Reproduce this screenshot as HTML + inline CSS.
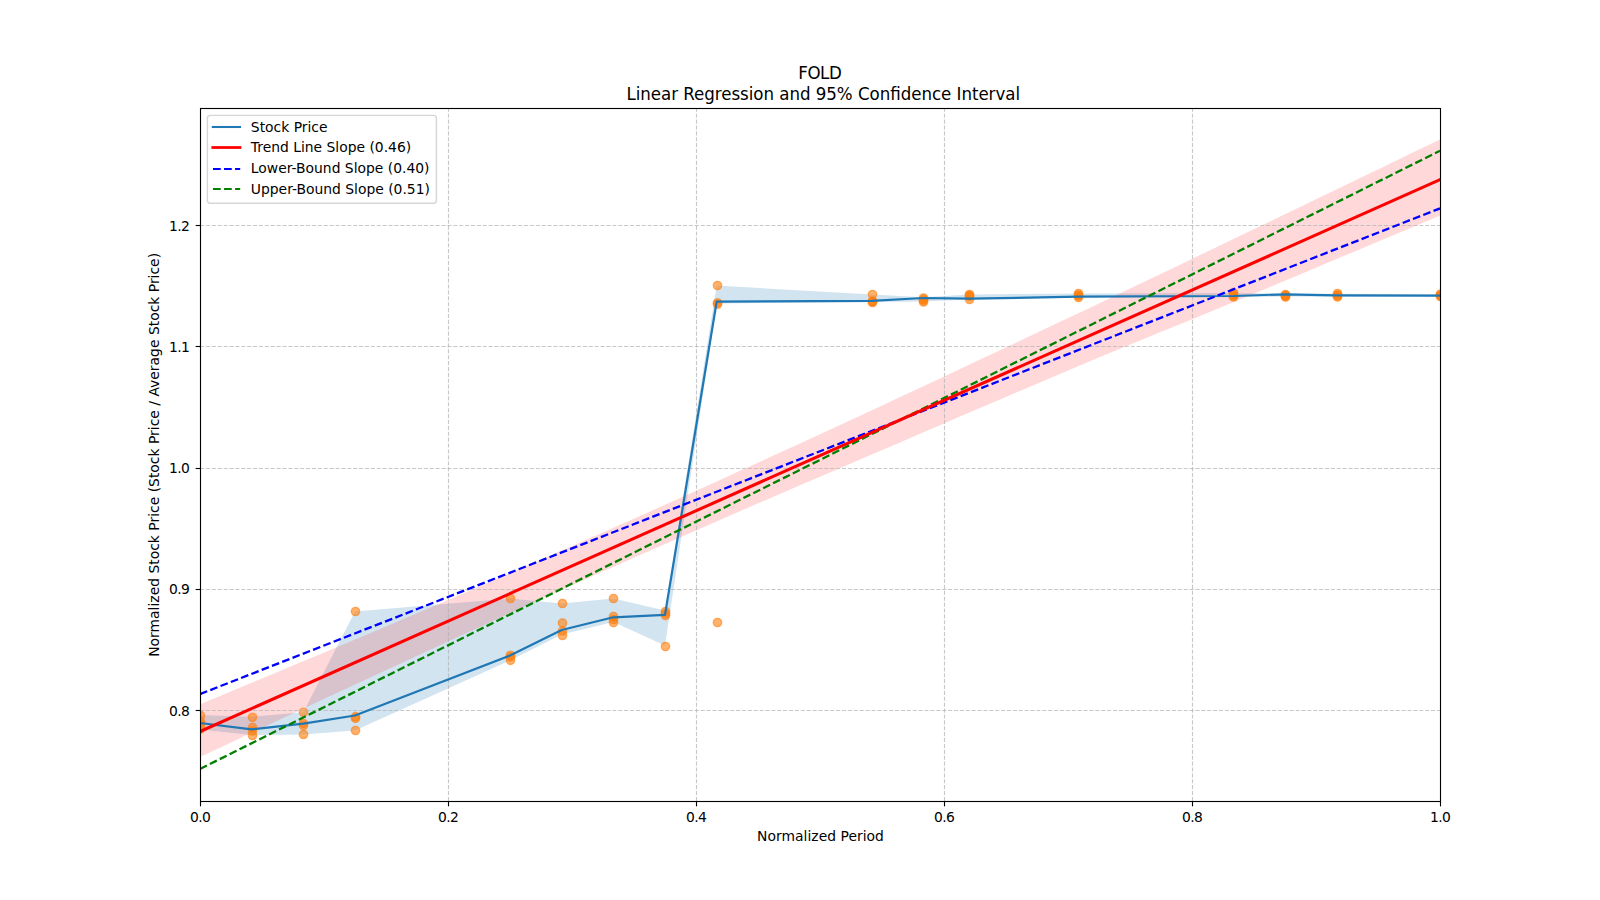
<!DOCTYPE html>
<html lang="en"><head><meta charset="utf-8"><title>FOLD - Linear Regression and 95% Confidence Interval</title>
<style>html,body{margin:0;padding:0;background:#fff;overflow:hidden}body{width:1600px;height:900px;font-family:'DejaVu Sans', 'Liberation Sans', sans-serif}svg text{white-space:pre}</style>
</head><body>
<svg width="1600" height="900" viewBox="0 0 1600 900" style="display:block;font-family:'DejaVu Sans', 'Liberation Sans', sans-serif">
<defs><clipPath id="ax"><rect x="200" y="108" width="1240" height="693"/></clipPath></defs>
<rect width="1600" height="900" fill="#fff"/>
<g clip-path="url(#ax)">
<polygon fill="#1f77b4" fill-opacity="0.2" points="200.00,715.00 251.67,716.70 303.33,712.30 355.00,611.50 510.00,598.50 561.67,603.50 613.33,598.50 665.00,610.50 716.67,285.50 871.67,294.50 923.33,297.30 969.50,294.50 1078.33,293.50 1233.33,293.00 1285.00,293.80 1336.67,293.80 1440.00,294.20 1440.00,296.40 1336.67,296.80 1285.00,296.50 1233.33,297.00 1078.33,297.30 969.50,299.50 923.33,301.50 871.67,302.00 716.67,303.50 665.00,645.50 613.33,622.00 561.67,634.50 510.00,660.50 355.00,730.50 303.33,734.50 251.67,735.00 200.00,729.50"/>
<polygon fill="#ff0000" fill-opacity="0.15" points="200.00,704.21 220.00,695.91 240.00,687.61 260.00,679.29 280.00,670.95 300.00,662.59 320.00,654.21 340.00,645.82 360.00,637.40 380.00,628.95 400.00,620.49 420.00,611.95 440.00,603.38 460.00,594.78 480.00,586.15 500.00,577.49 520.00,568.79 540.00,560.07 560.00,551.31 580.00,542.51 600.00,533.68 620.00,524.81 640.00,515.91 660.00,506.97 680.00,497.99 700.00,488.98 720.00,479.93 740.00,470.85 760.00,461.73 780.00,452.58 800.00,443.40 820.00,434.20 840.00,424.96 860.00,415.69 880.00,406.40 900.00,397.09 920.00,387.75 940.00,378.40 960.00,369.02 980.00,359.62 1000.00,350.21 1020.00,340.77 1040.00,331.33 1060.00,321.86 1080.00,312.39 1100.00,302.90 1120.00,293.35 1140.00,283.79 1160.00,274.22 1180.00,264.64 1200.00,255.06 1220.00,245.46 1240.00,235.85 1260.00,226.24 1280.00,216.62 1300.00,207.00 1320.00,197.36 1340.00,187.72 1360.00,178.08 1380.00,168.43 1400.00,158.78 1420.00,149.12 1440.00,139.45 1440.00,215.75 1420.00,224.11 1400.00,232.48 1380.00,240.85 1360.00,249.23 1340.00,257.61 1320.00,266.00 1300.00,274.39 1280.00,282.79 1260.00,291.20 1240.00,299.62 1220.00,307.79 1200.00,315.97 1180.00,324.15 1160.00,332.35 1140.00,340.56 1120.00,348.77 1100.00,357.00 1080.00,365.45 1060.00,373.92 1040.00,382.39 1020.00,390.89 1000.00,399.39 980.00,407.96 960.00,416.55 940.00,425.15 920.00,433.78 900.00,442.43 880.00,451.10 860.00,459.61 840.00,468.14 820.00,476.70 800.00,485.30 780.00,493.92 760.00,502.57 740.00,511.25 720.00,519.97 700.00,528.72 680.00,537.49 660.00,546.28 640.00,555.10 620.00,563.96 600.00,572.85 580.00,581.79 560.00,590.75 540.00,599.76 520.00,608.79 500.00,617.86 480.00,626.97 460.00,636.10 440.00,645.27 420.00,654.46 400.00,663.68 380.00,672.93 360.00,682.20 340.00,691.49 320.00,700.81 300.00,710.14 280.00,719.50 260.00,728.87 240.00,738.27 220.00,747.67 200.00,757.09"/>
<g fill="#ff7f0e" fill-opacity="0.6" stroke="#ff7f0e" stroke-opacity="0.6" stroke-width="1.39">
<circle cx="200.5" cy="715.6" r="4.17"/>
<circle cx="200.5" cy="721.5" r="4.17"/>
<circle cx="200.5" cy="724.5" r="4.17"/>
<circle cx="200.5" cy="729.1" r="4.17"/>
<circle cx="252.5" cy="717.3" r="4.17"/>
<circle cx="252.5" cy="727.5" r="4.17"/>
<circle cx="252.5" cy="731.0" r="4.17"/>
<circle cx="252.5" cy="735.5" r="4.17"/>
<circle cx="303.5" cy="712.3" r="4.17"/>
<circle cx="303.5" cy="723.5" r="4.17"/>
<circle cx="303.5" cy="725.5" r="4.17"/>
<circle cx="303.5" cy="734.5" r="4.17"/>
<circle cx="355.5" cy="611.5" r="4.17"/>
<circle cx="355.5" cy="716.7" r="4.17"/>
<circle cx="355.5" cy="718.4" r="4.17"/>
<circle cx="355.5" cy="730.5" r="4.17"/>
<circle cx="510.5" cy="598.5" r="4.17"/>
<circle cx="510.5" cy="655.3" r="4.17"/>
<circle cx="510.5" cy="656.8" r="4.17"/>
<circle cx="510.5" cy="660.3" r="4.17"/>
<circle cx="562.5" cy="603.5" r="4.17"/>
<circle cx="562.5" cy="623.0" r="4.17"/>
<circle cx="562.5" cy="631.0" r="4.17"/>
<circle cx="562.5" cy="635.5" r="4.17"/>
<circle cx="613.5" cy="598.5" r="4.17"/>
<circle cx="613.5" cy="616.5" r="4.17"/>
<circle cx="613.5" cy="619.5" r="4.17"/>
<circle cx="613.5" cy="622.5" r="4.17"/>
<circle cx="665.5" cy="611.5" r="4.17"/>
<circle cx="665.5" cy="613.5" r="4.17"/>
<circle cx="665.5" cy="615.5" r="4.17"/>
<circle cx="665.5" cy="646.5" r="4.17"/>
<circle cx="717.5" cy="285.5" r="4.17"/>
<circle cx="717.5" cy="302.8" r="4.17"/>
<circle cx="717.5" cy="304.2" r="4.17"/>
<circle cx="717.5" cy="622.5" r="4.17"/>
<circle cx="872.5" cy="294.5" r="4.17"/>
<circle cx="872.5" cy="301.0" r="4.17"/>
<circle cx="872.5" cy="301.8" r="4.17"/>
<circle cx="872.5" cy="302.5" r="4.17"/>
<circle cx="923.5" cy="298.0" r="4.17"/>
<circle cx="923.5" cy="299.5" r="4.17"/>
<circle cx="923.5" cy="300.5" r="4.17"/>
<circle cx="923.5" cy="302.0" r="4.17"/>
<circle cx="969.5" cy="294.5" r="4.17"/>
<circle cx="969.5" cy="295.5" r="4.17"/>
<circle cx="969.5" cy="296.5" r="4.17"/>
<circle cx="969.5" cy="299.5" r="4.17"/>
<circle cx="1078.5" cy="293.5" r="4.17"/>
<circle cx="1078.5" cy="295.0" r="4.17"/>
<circle cx="1078.5" cy="296.0" r="4.17"/>
<circle cx="1078.5" cy="297.5" r="4.17"/>
<circle cx="1233.5" cy="292.7" r="4.17"/>
<circle cx="1233.5" cy="294.5" r="4.17"/>
<circle cx="1233.5" cy="296.0" r="4.17"/>
<circle cx="1233.5" cy="297.0" r="4.17"/>
<circle cx="1285.5" cy="294.5" r="4.17"/>
<circle cx="1285.5" cy="295.5" r="4.17"/>
<circle cx="1285.5" cy="296.3" r="4.17"/>
<circle cx="1285.5" cy="297.0" r="4.17"/>
<circle cx="1337.5" cy="293.5" r="4.17"/>
<circle cx="1337.5" cy="295.0" r="4.17"/>
<circle cx="1337.5" cy="296.0" r="4.17"/>
<circle cx="1337.5" cy="297.0" r="4.17"/>
<circle cx="1440.5" cy="294.0" r="4.17"/>
<circle cx="1440.5" cy="295.0" r="4.17"/>
<circle cx="1440.5" cy="295.8" r="4.17"/>
<circle cx="1440.5" cy="296.5" r="4.17"/>
</g>
<g stroke="#b0b0b0" stroke-opacity="0.7" stroke-width="1.11" stroke-dasharray="4.11 1.78" fill="none">
<path d="M448.5 801V108"/>
<path d="M696.5 801V108"/>
<path d="M944.5 801V108"/>
<path d="M1192.5 801V108"/>
<path d="M200 710.5H1440"/>
<path d="M200 589.5H1440"/>
<path d="M200 468.5H1440"/>
<path d="M200 346.5H1440"/>
<path d="M200 225.5H1440"/>
</g>
<polyline fill="none" stroke="#1f77b4" stroke-width="2.2" stroke-linejoin="round" stroke-linecap="square" points="200.00,723.00 251.67,729.30 303.33,723.70 355.00,715.50 510.00,655.50 561.67,630.00 613.33,617.30 665.00,614.80 716.67,301.70 871.67,300.80 923.33,298.00 969.50,298.70 1078.33,296.70 1233.33,296.00 1285.00,294.30 1336.67,295.30 1440.00,295.70"/>
<path d="M200 694.1L1440 208.4" stroke="#0000ff" stroke-width="2.3" stroke-dasharray="7.71 3.33" fill="none"/>
<path d="M200 769.0L1440 150.8" stroke="#008000" stroke-width="2.3" stroke-dasharray="7.71 3.33" fill="none"/>
<path d="M200 731.5L1440 179.7" stroke="#ff0000" stroke-width="3.05" stroke-linecap="square" fill="none"/>
</g>
<rect x="200.5" y="108.5" width="1240" height="693" fill="none" stroke="#000" stroke-width="1.11"/>
<g stroke="#000" stroke-width="1.11">
<path d="M200.5 801.5v4.86"/>
<path d="M448.5 801.5v4.86"/>
<path d="M696.5 801.5v4.86"/>
<path d="M944.5 801.5v4.86"/>
<path d="M1192.5 801.5v4.86"/>
<path d="M1440.5 801.5v4.86"/>
<path d="M200.5 710.5h-4.86"/>
<path d="M200.5 589.5h-4.86"/>
<path d="M200.5 468.5h-4.86"/>
<path d="M200.5 346.5h-4.86"/>
<path d="M200.5 225.5h-4.86"/>
</g>
<g font-size="13.89" fill="#000">
<text x="200.5" y="821.5" text-anchor="middle" textLength="20.8">0.0</text>
<text x="448.5" y="821.5" text-anchor="middle" textLength="20.8">0.2</text>
<text x="696.5" y="821.5" text-anchor="middle" textLength="20.8">0.4</text>
<text x="944.5" y="821.5" text-anchor="middle" textLength="20.8">0.6</text>
<text x="1192.5" y="821.5" text-anchor="middle" textLength="20.8">0.8</text>
<text x="1440.5" y="821.5" text-anchor="middle" textLength="20.8">1.0</text>
<text x="189.8" y="715.7" text-anchor="end" textLength="20.8">0.8</text>
<text x="189.8" y="593.7" text-anchor="end" textLength="20.8">0.9</text>
<text x="189.8" y="472.7" text-anchor="end" textLength="20.8">1.0</text>
<text x="189.8" y="351.7" text-anchor="end" textLength="20.8">1.1</text>
<text x="189.8" y="230.7" text-anchor="end" textLength="20.8">1.2</text>
<text x="820.5" y="840.5" text-anchor="middle" textLength="126.8">Normalized Period</text>
<text transform="translate(158.5 454.85) rotate(-90)" text-anchor="middle" textLength="403.9">Normalized Stock Price (Stock Price / Average Stock Price)</text>
</g>
<g font-size="16.67" fill="#000" text-anchor="middle"><text transform="translate(820 79) scale(1 1.08)" textLength="43.55">FOLD</text><text transform="translate(823.25 100) scale(1 1.08)" textLength="393.64">Linear Regression and 95% Confidence Interval</text></g>
<rect x="207.4" y="115.4" width="229" height="87.9" rx="2.8" fill="#fff" fill-opacity="0.8" stroke="#ccc" stroke-opacity="0.8" stroke-width="1.39"/>
<path d="M212.8 127.0H240.0" stroke="#1f77b4" stroke-width="2.08" stroke-linecap="square" fill="none"/>
<text x="250.85" y="131.7" font-size="13.89" fill="#000">Stock Price</text>
<path d="M212.8 147.5H240.0" stroke="#ff0000" stroke-width="2.78" stroke-linecap="square" fill="none"/>
<text x="250.85" y="151.9" font-size="13.89" fill="#000">Trend Line Slope (0.46)</text>
<path d="M213 169.0H240.2" stroke="#0000ff" stroke-width="2.08" stroke-dasharray="7.71 3.33" fill="none"/>
<text x="250.85" y="172.8" font-size="13.89" fill="#000">Lower-Bound Slope (0.40)</text>
<path d="M213 189.0H240.2" stroke="#008000" stroke-width="2.08" stroke-dasharray="7.71 3.33" fill="none"/>
<text x="250.85" y="193.9" font-size="13.89" fill="#000">Upper-Bound Slope (0.51)</text>
</svg>
</body></html>
